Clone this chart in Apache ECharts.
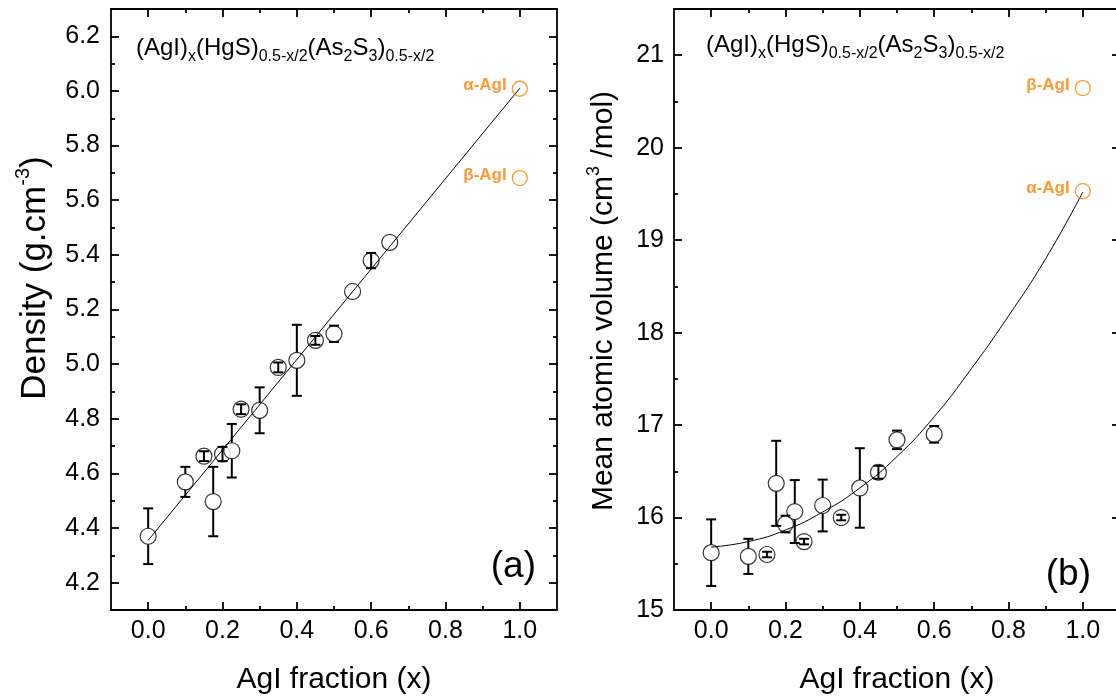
<!DOCTYPE html>
<html><head><meta charset="utf-8">
<script src="https://cdn.jsdelivr.net/npm/echarts@6/dist/echarts.min.js"></script>
<style>html,body{margin:0;padding:0;background:#fff}#c{width:1116px;height:698px}</style>
</head><body><div id="c"></div>
<script>
const FONT = '"Liberation Sans", Arial, Helvetica, sans-serif';
const ORANGE = '#ff8000';

// tick values
const xMajorTicks = [0.0, 0.2, 0.4, 0.6, 0.8, 1.0];
const xMinorTicks = [0.1, 0.3, 0.5, 0.7, 0.9];
const densMajorTicks = [4.2, 4.4, 4.6, 4.8, 5.0, 5.2, 5.4, 5.6, 5.8, 6.0, 6.2];
const densMinorTicks = [4.3, 4.5, 4.7, 4.9, 5.1, 5.3, 5.5, 5.7, 5.9, 6.1];
const volMajorTicks = [15, 16, 17, 18, 19, 20, 21];
const volMinorTicks = [15.5, 16.5, 17.5, 18.5, 19.5, 20.5];

// (a) density
const densX   = [0.0, 0.1, 0.15, 0.175, 0.2, 0.225, 0.25, 0.3, 0.35, 0.4, 0.45, 0.5, 0.55, 0.6, 0.65];
const densY   = [4.37, 4.569, 4.663, 4.497, 4.671, 4.683, 4.835, 4.831, 4.988, 5.014, 5.087, 5.111, 5.266, 5.379, 5.446];
const densErr = [0.102, 0.055, 0.018, 0.127, 0.026, 0.098, 0.018, 0.084, 0.018, 0.13, 0.016, 0.03, 0, 0.028, 0];
const densFitX = [0.0, 1.0];
const densFitY = [4.355, 6.01];
const densAgiX = [1.0, 1.0];
const densAgiY = [6.008, 5.681];
const densAgiNames = ['α-AgI', 'β-AgI'];

// (b) mean atomic volume
const volX   = [0.0, 0.1, 0.15, 0.175, 0.2, 0.225, 0.25, 0.3, 0.35, 0.4, 0.45, 0.5, 0.6];
const volY   = [15.62, 15.58, 15.60, 16.37, 15.93, 16.065, 15.74, 16.13, 16.00, 16.32, 16.49, 16.84, 16.90];
const volErr = [0.36, 0.19, 0.03, 0.46, 0.09, 0.34, 0.03, 0.28, 0.03, 0.43, 0.07, 0.10, 0.09];
const volFitX = [0.0, 0.1, 0.2, 0.3, 0.4, 0.5, 0.6, 0.7, 0.8, 0.9, 1.0];
const volFitY = [15.68, 15.74, 15.865, 16.06, 16.32, 16.66, 17.09, 17.61, 18.18, 18.80, 19.52];
const volAgiX = [1.0, 1.0];
const volAgiY = [20.645, 19.53];
const volAgiNames = ['β-AgI', 'α-AgI'];

// text labels
const xTitle = 'AgI fraction (x)';
const densTitle = '{m|Density (g.cm}{s|-3}{m|)}';
const volTitle = '{m|Mean atomic volume (cm}{s|3}{m| /mol)}';
const formula = '{m|(AgI)}{s|x}{m|(HgS)}{s|0.5-x/2}{m|(As}{s|2}{m|S}{s|3}{m|)}{s|0.5-x/2}';
const panelTags = ['(a)', '(b)'];

const zip = (a, b, c) => a.map((v, i) => c ? [v, b[i], c[i]] : [v, b[i]]);

const axisLineStyle = { color: '#000', width: 1.8 };
const tickStyle = { color: '#000', width: 1.8 };

function makeXAxes(g) {
  const base = { gridIndex: g, type: 'value', min: -0.1, max: 1.1, splitLine: { show: false } };
  return [
    Object.assign({}, base, {
      position: 'bottom',
      axisLine: { show: true, onZero: false, lineStyle: axisLineStyle },
      axisTick: { show: true, inside: true, length: 8, customValues: xMajorTicks, lineStyle: tickStyle },
      axisLabel: { show: true, customValues: xMajorTicks, formatter: v => v.toFixed(1), fontSize: 25, fontFamily: FONT, color: '#000', margin: 9 },
      name: xTitle, nameLocation: 'middle', nameGap: 55,
      nameTextStyle: { fontSize: 30, fontFamily: FONT, color: '#000' }
    }),
    Object.assign({}, base, {
      position: 'bottom',
      axisLine: { show: false, onZero: false },
      axisTick: { show: true, inside: true, length: 4, customValues: xMinorTicks, lineStyle: tickStyle },
      axisLabel: { show: false }
    }),
    Object.assign({}, base, {
      position: 'top',
      axisLine: { show: true, onZero: false, lineStyle: axisLineStyle },
      axisTick: { show: true, inside: true, length: 8, customValues: xMajorTicks, lineStyle: tickStyle },
      axisLabel: { show: false }
    }),
    Object.assign({}, base, {
      position: 'top',
      axisLine: { show: false, onZero: false },
      axisTick: { show: true, inside: true, length: 4, customValues: xMinorTicks, lineStyle: tickStyle },
      axisLabel: { show: false }
    })
  ];
}

function makeYAxes(g, min, max, major, minor, fmt, margin) {
  const base = { gridIndex: g, type: 'value', min: min, max: max, splitLine: { show: false } };
  return [
    Object.assign({}, base, {
      position: 'left',
      axisLine: { show: true, onZero: false, lineStyle: axisLineStyle },
      axisTick: { show: true, inside: true, length: 8, customValues: major, lineStyle: tickStyle },
      axisLabel: { show: true, customValues: major, formatter: fmt, fontSize: 25, fontFamily: FONT, color: '#000', margin: margin }
    }),
    Object.assign({}, base, {
      position: 'left',
      axisLine: { show: false, onZero: false },
      axisTick: { show: true, inside: true, length: 4, customValues: minor, lineStyle: tickStyle },
      axisLabel: { show: false }
    }),
    Object.assign({}, base, {
      position: 'right',
      axisLine: { show: true, onZero: false, lineStyle: axisLineStyle },
      axisTick: { show: true, inside: true, length: 8, customValues: major, lineStyle: tickStyle },
      axisLabel: { show: false }
    }),
    Object.assign({}, base, {
      position: 'right',
      axisLine: { show: false, onZero: false },
      axisTick: { show: true, inside: true, length: 4, customValues: minor, lineStyle: tickStyle },
      axisLabel: { show: false }
    })
  ];
}

const R = 8;      // symbol radius (px)
const CAP = 5;    // half cap width (px)
function errorRender(params, api) {
  const x = api.value(0), y = api.value(1), e = api.value(2);
  if (!e) return { type: 'group', children: [] };
  const c = api.coord([x, y]);
  const t = api.coord([x, y + e]);
  const b = api.coord([x, y - e]);
  const st = { stroke: '#000', lineWidth: 2 };
  const ch = [];
  if (c[1] - t[1] > R) {
    ch.push({ type: 'line', shape: { x1: c[0], y1: t[1], x2: c[0], y2: c[1] - R }, style: st });
    ch.push({ type: 'line', shape: { x1: c[0], y1: c[1] + R, x2: c[0], y2: b[1] }, style: st });
  } else {
    ch.push({ type: 'line', shape: { x1: c[0], y1: t[1], x2: c[0], y2: b[1] }, style: st });
  }
  ch.push({ type: 'line', shape: { x1: c[0] - CAP, y1: t[1], x2: c[0] + CAP, y2: t[1] }, style: st });
  ch.push({ type: 'line', shape: { x1: c[0] - CAP, y1: b[1], x2: c[0] + CAP, y2: b[1] }, style: st });
  return { type: 'group', children: ch };
}

function panelSeries(xi, yi, px, py, pe, fx, fy, ax, ay, names, smooth) {
  return [
    {
      type: 'scatter', xAxisIndex: xi, yAxisIndex: yi, z: 2, silent: true,
      symbol: 'circle', symbolSize: 16,
      itemStyle: { color: '#fff', borderColor: '#000', borderWidth: 1.2 },
      data: zip(px, py)
    },
    {
      type: 'line', xAxisIndex: xi, yAxisIndex: yi, z: 3, silent: true,
      showSymbol: false, symbol: 'none', smooth: smooth,
      lineStyle: { color: '#000', width: 1 },
      data: zip(fx, fy)
    },
    {
      type: 'custom', xAxisIndex: xi, yAxisIndex: yi, z: 4, silent: true,
      renderItem: errorRender,
      encode: { x: 0, y: 1 },
      data: zip(px, py, pe)
    },
    {
      type: 'scatter', xAxisIndex: xi, yAxisIndex: yi, z: 5, silent: true,
      symbol: 'circle', symbolSize: 15,
      itemStyle: { color: 'rgba(255,255,255,0)', borderColor: ORANGE, borderWidth: 1.3 },
      label: {
        show: true, position: 'left', distance: 5, offset: [0, -3],
        formatter: p => p.name,
        color: ORANGE, fontWeight: 'bold', fontSize: 17, fontFamily: FONT
      },
      data: ax.map((v, i) => ({ name: names[i], value: [v, ay[i]] }))
    }
  ];
}

const formulaRich = {
  m: { fontSize: 24, fontFamily: FONT, fill: '#000', lineHeight: 24, verticalAlign: 'top' },
  s: { fontSize: 16, fontFamily: FONT, fill: '#000', lineHeight: 28, verticalAlign: 'bottom' }
};
function titleRich(size, supSize) {
  return {
    m: { fontSize: size, fontFamily: FONT, fill: '#000', lineHeight: size + 4, verticalAlign: 'bottom' },
    s: { fontSize: supSize, fontFamily: FONT, fill: '#000', lineHeight: supSize + 2, verticalAlign: 'top' }
  };
}

const chart = echarts.init(document.getElementById('c'), null, { renderer: 'canvas' });
chart.setOption({
  animation: false,
  backgroundColor: '#fff',
  grid: [
    { left: 111, top: 9, width: 446, height: 601, containLabel: false, outerBoundsMode: 'none' },
    { left: 674, top: 9, width: 446, height: 601, containLabel: false, outerBoundsMode: 'none' }
  ],
  xAxis: makeXAxes(0).concat(makeXAxes(1)),
  yAxis: makeYAxes(0, 4.1, 6.3, densMajorTicks, densMinorTicks, v => v.toFixed(1), 11)
    .concat(makeYAxes(1, 15, 21.5, volMajorTicks, volMinorTicks, v => String(Math.round(v)), 10)),
  series: panelSeries(0, 0, densX, densY, densErr, densFitX, densFitY, densAgiX, densAgiY, densAgiNames, false)
    .concat(panelSeries(4, 4, volX, volY, volErr, volFitX, volFitY, volAgiX, volAgiY, volAgiNames, true)),
  graphic: [
    { type: 'text', x: 136, y: 36.5, silent: true, style: { text: formula, rich: formulaRich, verticalAlign: 'top' } },
    { type: 'text', x: 706, y: 33.5, silent: true, style: { text: formula, rich: formulaRich, verticalAlign: 'top' } },
    { type: 'text', x: 33, y: 278, rotation: Math.PI / 2, silent: true,
      style: { text: densTitle, rich: titleRich(35, 20), align: 'center', verticalAlign: 'middle' } },
    { type: 'text', x: 602, y: 301, rotation: Math.PI / 2, silent: true,
      style: { text: volTitle, rich: titleRich(30, 18), align: 'center', verticalAlign: 'middle' } },
    { type: 'text', x: 536, y: 567, silent: true, style: { text: panelTags[0], fontSize: 37, fontFamily: FONT, fill: '#000', align: 'right', verticalAlign: 'middle' } },
    { type: 'text', x: 1091, y: 575, silent: true, style: { text: panelTags[1], fontSize: 37, fontFamily: FONT, fill: '#000', align: 'right', verticalAlign: 'middle' } }
  ]
});
</script>
</body></html>
